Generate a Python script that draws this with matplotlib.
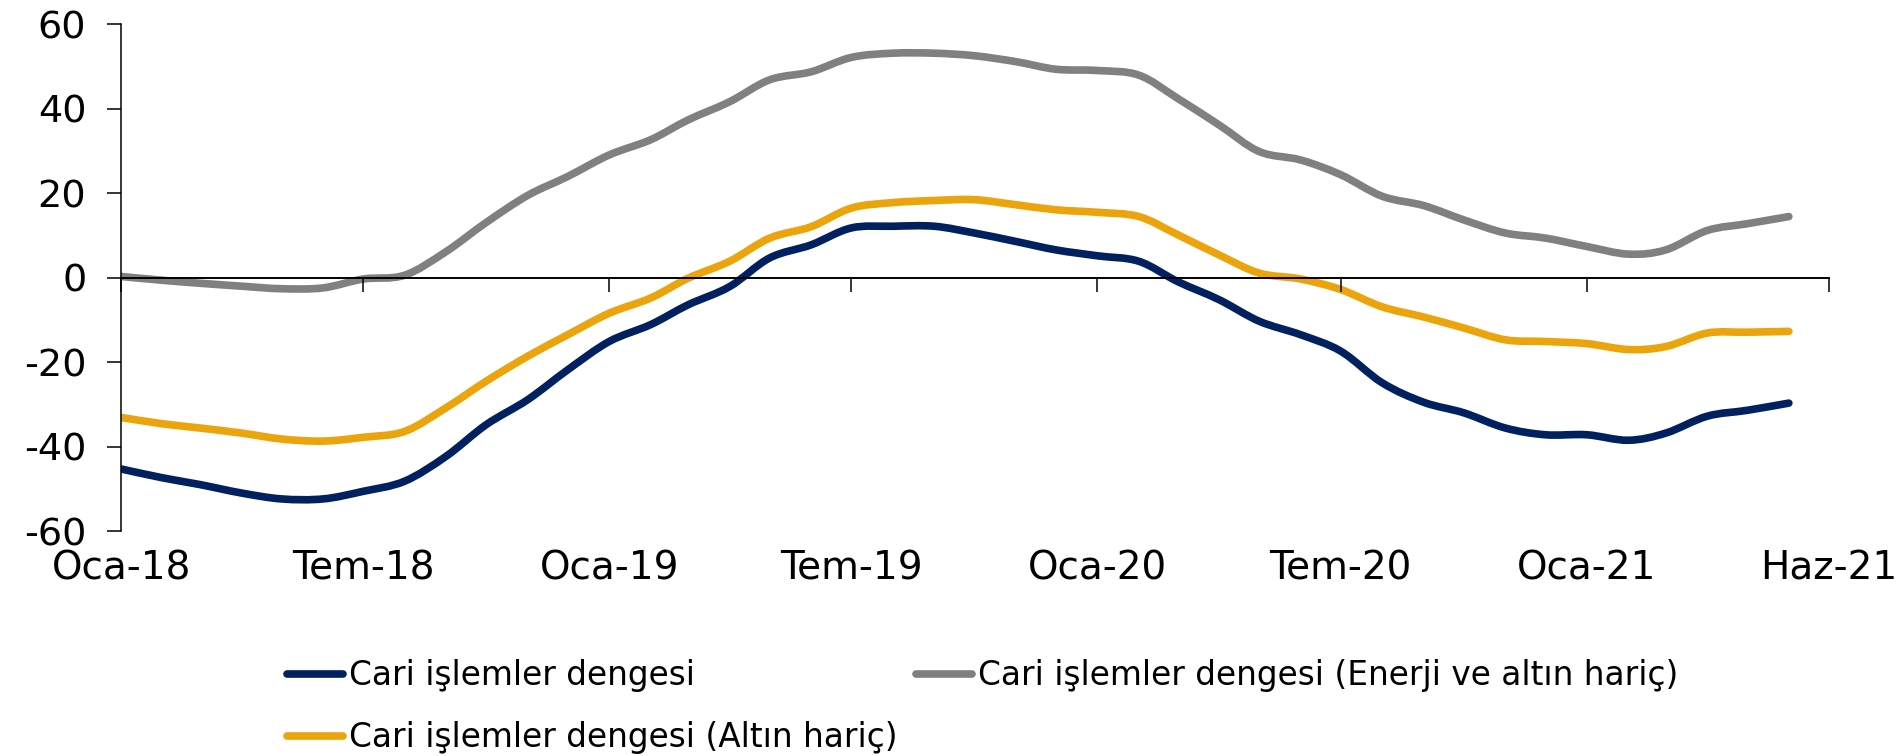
#!/usr/bin/env python3
"""Cari islemler dengesi - cizgi grafigi"""

import matplotlib
matplotlib.use("Agg")
import matplotlib.pyplot as plt
import matplotlib.dates as mdates
from matplotlib.lines import Line2D
from matplotlib.path import Path
from matplotlib.patches import PathPatch
import numpy as np
import pandas as pd

# aylik seriler, Oca-18 .. Haz-21
months = pd.date_range("2018-01-01", periods=42, freq="MS")

cari = [-45.3, -47.4, -49.0, -51.0, -52.4, -52.4, -50.6, -48.2, -42.3, -34.8,
        -28.9, -21.8, -15.1, -11.1, -6.4, -2.1, 4.7, 7.8, 11.8, 12.2,
        12.2, 10.6, 8.6, 6.6, 5.2, 3.9, -0.9, -5.2, -10.3, -13.5,
        -17.4, -24.9, -29.5, -32.0, -35.6, -37.2, -37.2, -38.5, -36.8, -32.8,
        -31.4, -29.7]
enerji_altin_haric = [0.3, -0.6, -1.3, -2.0, -2.6, -2.4, -0.3, 0.6, 6.2, 13.1,
                      19.5, 24.0, 29.1, 32.7, 37.4, 41.7, 46.9, 48.8, 52.2, 53.2,
                      53.2, 52.6, 51.2, 49.4, 49.1, 48.0, 42.5, 36.2, 29.9, 27.9,
                      24.4, 19.3, 17.1, 13.7, 10.6, 9.4, 7.4, 5.6, 6.6, 11.2,
                      12.8, 14.5]
altin_haric = [-33.1, -34.6, -35.6, -36.8, -38.2, -38.7, -37.8, -36.4, -30.8, -24.5,
               -18.6, -13.5, -8.4, -4.8, -0.1, 3.9, 9.4, 12.1, 16.5, 17.8,
               18.3, 18.5, 17.3, 16.1, 15.5, 14.5, 10.2, 5.4, 1.1, -0.3,
               -2.8, -6.9, -9.3, -11.9, -14.7, -15.1, -15.6, -17.0, -16.3, -13.1,
               -12.9, -12.7]

tick_dates = pd.to_datetime(["2018-01-01", "2018-07-01", "2019-01-01", "2019-07-01",
                             "2020-01-01", "2020-07-01", "2021-01-01", "2021-07-01"])
tick_labels = ["Oca-18", "Tem-18", "Oca-19", "Tem-19", "Oca-20", "Tem-20", "Oca-21", "Haz-21"]
y_ticks = [-60, -40, -20, 0, 20, 40, 60]

NAVY = "#002060"
GRAY = "#808080"
GOLD = "#EBA40C"
LW = 5.5


def smooth_path(x, y):
    """Excel tarzi yumusatilmis cizgi (Catmull-Rom -> Bezier), tum noktalardan gecer"""
    pts = np.column_stack([x, y])
    n = len(pts)
    verts = [pts[0]]
    codes = [Path.MOVETO]
    for i in range(n - 1):
        p0 = pts[max(i - 1, 0)]
        p1 = pts[i]
        p2 = pts[i + 1]
        p3 = pts[min(i + 2, n - 1)]
        verts += [p1 + (p2 - p0) / 6, p2 - (p3 - p1) / 6, p2]
        codes += [Path.CURVE4] * 3
    return Path(verts, codes)


plt.rcParams["font.family"] = ["DejaVu Sans"]
plt.rcParams["axes.unicode_minus"] = False

fig = plt.figure(figsize=(19.01, 7.56), dpi=100)
ax = fig.add_axes([0.0637, 0.2976, 0.8984, 0.67])

xs = mdates.date2num(months)
series = [
    (cari, NAVY, "Cari işlemler dengesi"),
    (altin_haric, GOLD, "Cari işlemler dengesi (Altın hariç)"),
    (enerji_altin_haric, GRAY, "Cari işlemler dengesi (Enerji ve altın hariç)"),
]
handles = []
for vals, color, label in series:
    patch = PathPatch(smooth_path(xs, np.array(vals)), fill=False, edgecolor=color, lw=LW,
                      capstyle="round", joinstyle="round")
    ax.add_patch(patch)
    handles.append(Line2D([], [], color=color, lw=LW, solid_capstyle="round", label=label))

xt = mdates.date2num(tick_dates)
ax.set_xlim(xt[0], xt[-1])
ax.set_ylim(-60, 60)

# y ekseni
ax.set_yticks(y_ticks)
ax.set_yticklabels([str(v) for v in y_ticks])
ax.tick_params(axis="y", direction="out", length=10, width=1.1, labelsize=27.5, pad=15)

# x ekseni sifir cizgisinde, etiketler altta
ax.spines["bottom"].set_position(("data", 0))
ax.spines["bottom"].set_linewidth(1.4)
ax.spines["left"].set_linewidth(1.1)
ax.spines["top"].set_visible(False)
ax.spines["right"].set_visible(False)
ax.set_xticks(xt)
ax.tick_params(axis="x", direction="out", length=10, width=1.1, labelbottom=False)

sec = ax.secondary_xaxis(0)
sec.set_xticks(xt)
sec.set_xticklabels(tick_labels)
sec.spines["bottom"].set_visible(False)
sec.tick_params(axis="x", length=0, labelsize=28, pad=13)

fig.legend(handles=[handles[0], handles[1], handles[2]], loc="upper left",
           bbox_to_anchor=(287 / 1901, 1 - 659 / 756),
           ncol=2, frameon=False, fontsize=23.6, handlelength=1.7, handletextpad=0.2,
           columnspacing=0.55, labelspacing=0.9, borderpad=0, borderaxespad=0)

fig.savefig("out.png", dpi=100)
